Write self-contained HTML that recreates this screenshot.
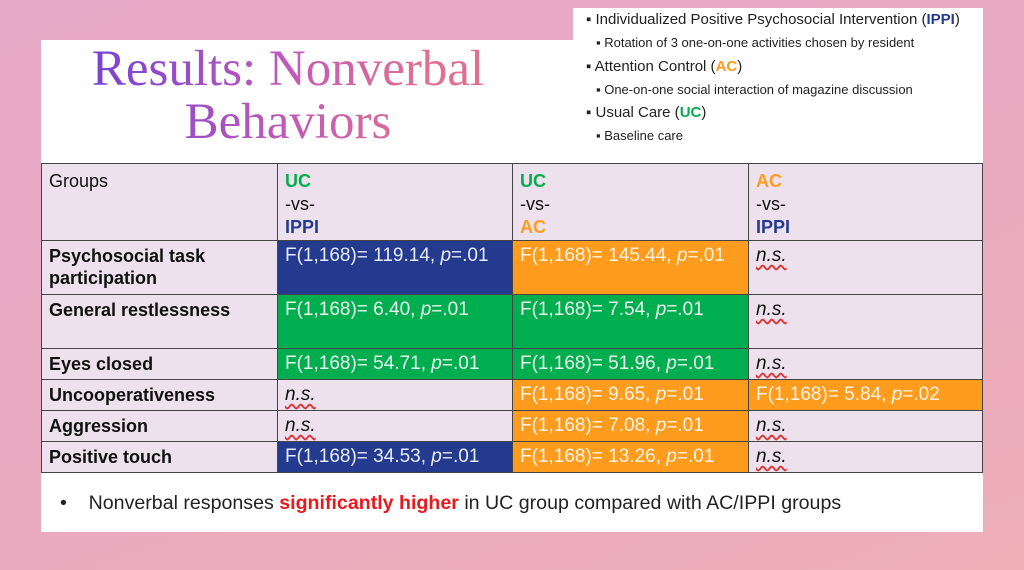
<!DOCTYPE html>
<html><head><meta charset="utf-8"><style>
*{margin:0;padding:0;box-sizing:border-box}
body{width:1024px;height:570px;overflow:hidden;position:relative;background:linear-gradient(160deg,#e7aac8 0%,#eaabc0 60%,#edaeb6 100%);font-family:"Liberation Sans",sans-serif}
.panel{position:absolute;left:41px;top:40px;width:942px;height:492px;background:#fff}
.box{position:absolute;left:573px;top:8px;width:410px;height:152px;background:#fff}
.title{position:absolute;left:60px;width:456px;text-align:center;font-family:"Liberation Serif",serif;font-size:51px;line-height:52px;background:linear-gradient(90deg,#6b3fd8 0%,#c05ab8 50%,#e07090 80%);-webkit-background-clip:text;background-clip:text;color:transparent}
.b{position:absolute;font-size:15px;color:#222;white-space:nowrap}
.s{position:absolute;font-size:13px;color:#222;white-space:nowrap}
.c{position:absolute;border:1.5px solid #444;background:#ede1ed;font-size:19px;padding:4px 7px;color:#111;line-height:22px}
.lab{font-weight:bold;font-size:18px}
.bl{background:#233a8f;color:#e8ecf5}
.gr{background:#00ad4f;color:#e8f5ec}
.or{background:#ff9c1e;color:#fff4e4}
.ns{font-style:italic;text-decoration:underline wavy #d33;text-underline-offset:3px}
.hd{line-height:23px;font-size:18px;padding-top:6px}
</style></head><body>
<div class="panel"></div>
<div class="box"></div>
<div class="title" style="top:43px">Results: Nonverbal</div>
<div class="title" style="top:96px">Behaviors</div>
<div class="b" style="left:586px;top:11px">▪ Individualized Positive Psychosocial Intervention (<b style="color:#233a8f">IPPI</b>)</div>
<div class="s" style="left:596px;top:35px">▪ Rotation of 3 one-on-one activities chosen by resident</div>
<div class="b" style="left:586px;top:58px">▪ Attention Control (<b style="color:#ff9c1e">AC</b>)</div>
<div class="s" style="left:596px;top:82px">▪ One-on-one social interaction of magazine discussion</div>
<div class="b" style="left:586px;top:104px">▪ Usual Care (<b style="color:#00ad4f">UC</b>)</div>
<div class="s" style="left:596px;top:128px">▪ Baseline care</div>

<div class="c hd" style="left:41px;top:163px;width:237px;height:78px">Groups</div>
<div class="c hd" style="left:277px;top:163px;width:236px;height:78px"><b style="color:#00ad4f">UC</b><br>-vs-<br><b style="color:#233a8f">IPPI</b></div>
<div class="c hd" style="left:512px;top:163px;width:237px;height:78px"><b style="color:#00ad4f">UC</b><br>-vs-<br><b style="color:#ff9c1e">AC</b></div>
<div class="c hd" style="left:748px;top:163px;width:235px;height:78px"><b style="color:#ff9c1e">AC</b><br>-vs-<br><b style="color:#233a8f">IPPI</b></div>

<div class="c lab" style="left:41px;top:240px;width:237px;height:55px">Psychosocial task participation</div>
<div class="c bl" style="left:277px;top:240px;width:236px;height:55px">F(1,168)= 119.14, <i>p</i>=.01</div>
<div class="c or" style="left:512px;top:240px;width:237px;height:55px">F(1,168)= 145.44, <i>p</i>=.01</div>
<div class="c" style="left:748px;top:240px;width:235px;height:55px"><span class="ns">n.s.</span></div>

<div class="c lab" style="left:41px;top:294px;width:237px;height:55px">General restlessness</div>
<div class="c gr" style="left:277px;top:294px;width:236px;height:55px">F(1,168)= 6.40, <i>p</i>=.01</div>
<div class="c gr" style="left:512px;top:294px;width:237px;height:55px">F(1,168)= 7.54, <i>p</i>=.01</div>
<div class="c" style="left:748px;top:294px;width:235px;height:55px"><span class="ns">n.s.</span></div>

<div class="c lab" style="left:41px;top:348px;width:237px;height:32px">Eyes closed</div>
<div class="c gr" style="left:277px;top:348px;width:236px;height:32px">F(1,168)= 54.71, <i>p</i>=.01</div>
<div class="c gr" style="left:512px;top:348px;width:237px;height:32px">F(1,168)= 51.96, <i>p</i>=.01</div>
<div class="c" style="left:748px;top:348px;width:235px;height:32px"><span class="ns">n.s.</span></div>

<div class="c lab" style="left:41px;top:379px;width:237px;height:32px">Uncooperativeness</div>
<div class="c" style="left:277px;top:379px;width:236px;height:32px"><span class="ns">n.s.</span></div>
<div class="c or" style="left:512px;top:379px;width:237px;height:32px">F(1,168)= 9.65, <i>p</i>=.01</div>
<div class="c or" style="left:748px;top:379px;width:235px;height:32px">F(1,168)= 5.84, <i>p</i>=.02</div>

<div class="c lab" style="left:41px;top:410px;width:237px;height:32px">Aggression</div>
<div class="c" style="left:277px;top:410px;width:236px;height:32px"><span class="ns">n.s.</span></div>
<div class="c or" style="left:512px;top:410px;width:237px;height:32px">F(1,168)= 7.08, <i>p</i>=.01</div>
<div class="c" style="left:748px;top:410px;width:235px;height:32px"><span class="ns">n.s.</span></div>

<div class="c lab" style="left:41px;top:441px;width:237px;height:32px">Positive touch</div>
<div class="c bl" style="left:277px;top:441px;width:236px;height:32px">F(1,168)= 34.53, <i>p</i>=.01</div>
<div class="c or" style="left:512px;top:441px;width:237px;height:32px">F(1,168)= 13.26, <i>p</i>=.01</div>
<div class="c" style="left:748px;top:441px;width:235px;height:32px"><span class="ns">n.s.</span></div>

<div style="position:absolute;left:60px;top:492px;font-size:19.6px;color:#222;white-space:nowrap">•&nbsp;&nbsp;&nbsp;&nbsp;Nonverbal responses <b style="color:#e8191e">significantly higher</b> in UC group compared with AC/IPPI groups</div>
</body></html>
